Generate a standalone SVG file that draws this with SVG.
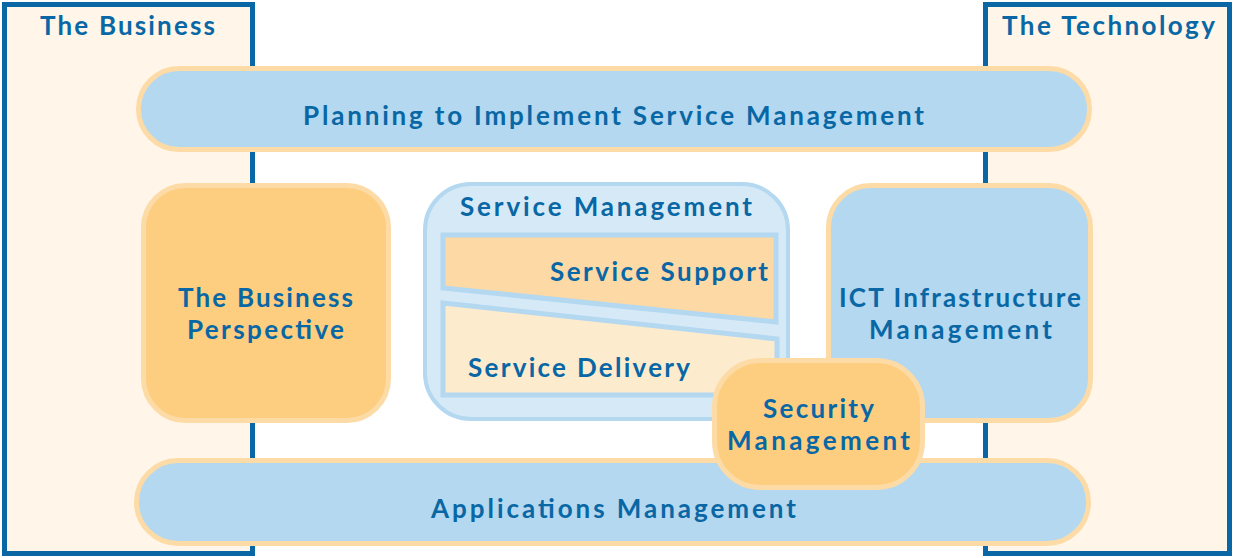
<svg xmlns="http://www.w3.org/2000/svg" width="1234" height="558" viewBox="0 0 1234 558">
<style>
.t{font-family:Lato,"Open Sans","Liberation Sans",sans-serif;font-weight:bold;fill:#0867A4;font-size:26px}
.domain{fill:#FFF5E8;stroke:#0867A4;stroke-width:5}
.blue{fill:#B3D8F0;stroke:#FDDBA6;stroke-width:5}
.orange{fill:#FDCD80;stroke:#FDDBA6;stroke-width:5}
</style>
<rect width="1234" height="558" fill="#fff"/>
<g id="business">
<rect class="domain" x="4.5" y="4.5" width="248" height="549"/>
<text class="t" x="40" y="35" textLength="175" lengthAdjust="spacing">The Business</text>
</g>
<g id="technology">
<rect class="domain" x="985.5" y="4.5" width="244" height="549"/>
<text class="t" x="1002" y="35" textLength="213" lengthAdjust="spacing">The Technology</text>
</g>
<g id="planning">
<rect class="blue" x="138.5" y="68.5" width="951" height="81" rx="40.5"/>
<text class="t" x="303" y="125" textLength="621" lengthAdjust="spacing">Planning to Implement Service Management</text>
</g>
<g id="applications">
<rect class="blue" x="136.5" y="460.5" width="952" height="83" rx="41.5"/>
<text class="t" x="431" y="518" textLength="365" lengthAdjust="spacing">Applications Management</text>
</g>
<g id="perspective">
<rect class="orange" x="143.5" y="185.5" width="245" height="235" rx="42"/>
<text class="t"><tspan x="178" y="307" textLength="175" lengthAdjust="spacing">The Business</tspan><tspan x="187" y="339" textLength="157" lengthAdjust="spacing">Perspective</tspan></text>
</g>
<g id="ict">
<rect class="blue" x="828.5" y="185.5" width="262" height="235" rx="42"/>
<text class="t"><tspan x="839" y="307" textLength="242" lengthAdjust="spacing">ICT Infrastructure</tspan><tspan x="869" y="339" textLength="183" lengthAdjust="spacing">Management</tspan></text>
</g>
<g id="service-management">
<rect x="425" y="184" width="363" height="235" rx="46" fill="#D6E9F7" stroke="#B3D8F0" stroke-width="4"/>
<text class="t" x="460" y="216" textLength="292" lengthAdjust="spacing">Service Management</text>
<g id="service-support">
<polygon points="443,235 776,235 776,322 443,288" fill="#FDD9A6" stroke="#B3D8F0" stroke-width="5"/>
<text class="t" x="550" y="281" textLength="218" lengthAdjust="spacing">Service Support</text>
</g>
<g id="service-delivery">
<polygon points="443,303 777,339 777,395 443,395" fill="#FDEBCE" stroke="#B3D8F0" stroke-width="5"/>
<text class="t" x="468" y="377" textLength="222" lengthAdjust="spacing">Service Delivery</text>
</g>
</g>
<g id="security">
<rect class="orange" x="714.5" y="360.5" width="208" height="127" rx="46"/>
<text class="t"><tspan x="763" y="418" textLength="111" lengthAdjust="spacing">Security</tspan><tspan x="727" y="450" textLength="183" lengthAdjust="spacing">Management</tspan></text>
</g>
<g id="connectors"></g>
</svg>
